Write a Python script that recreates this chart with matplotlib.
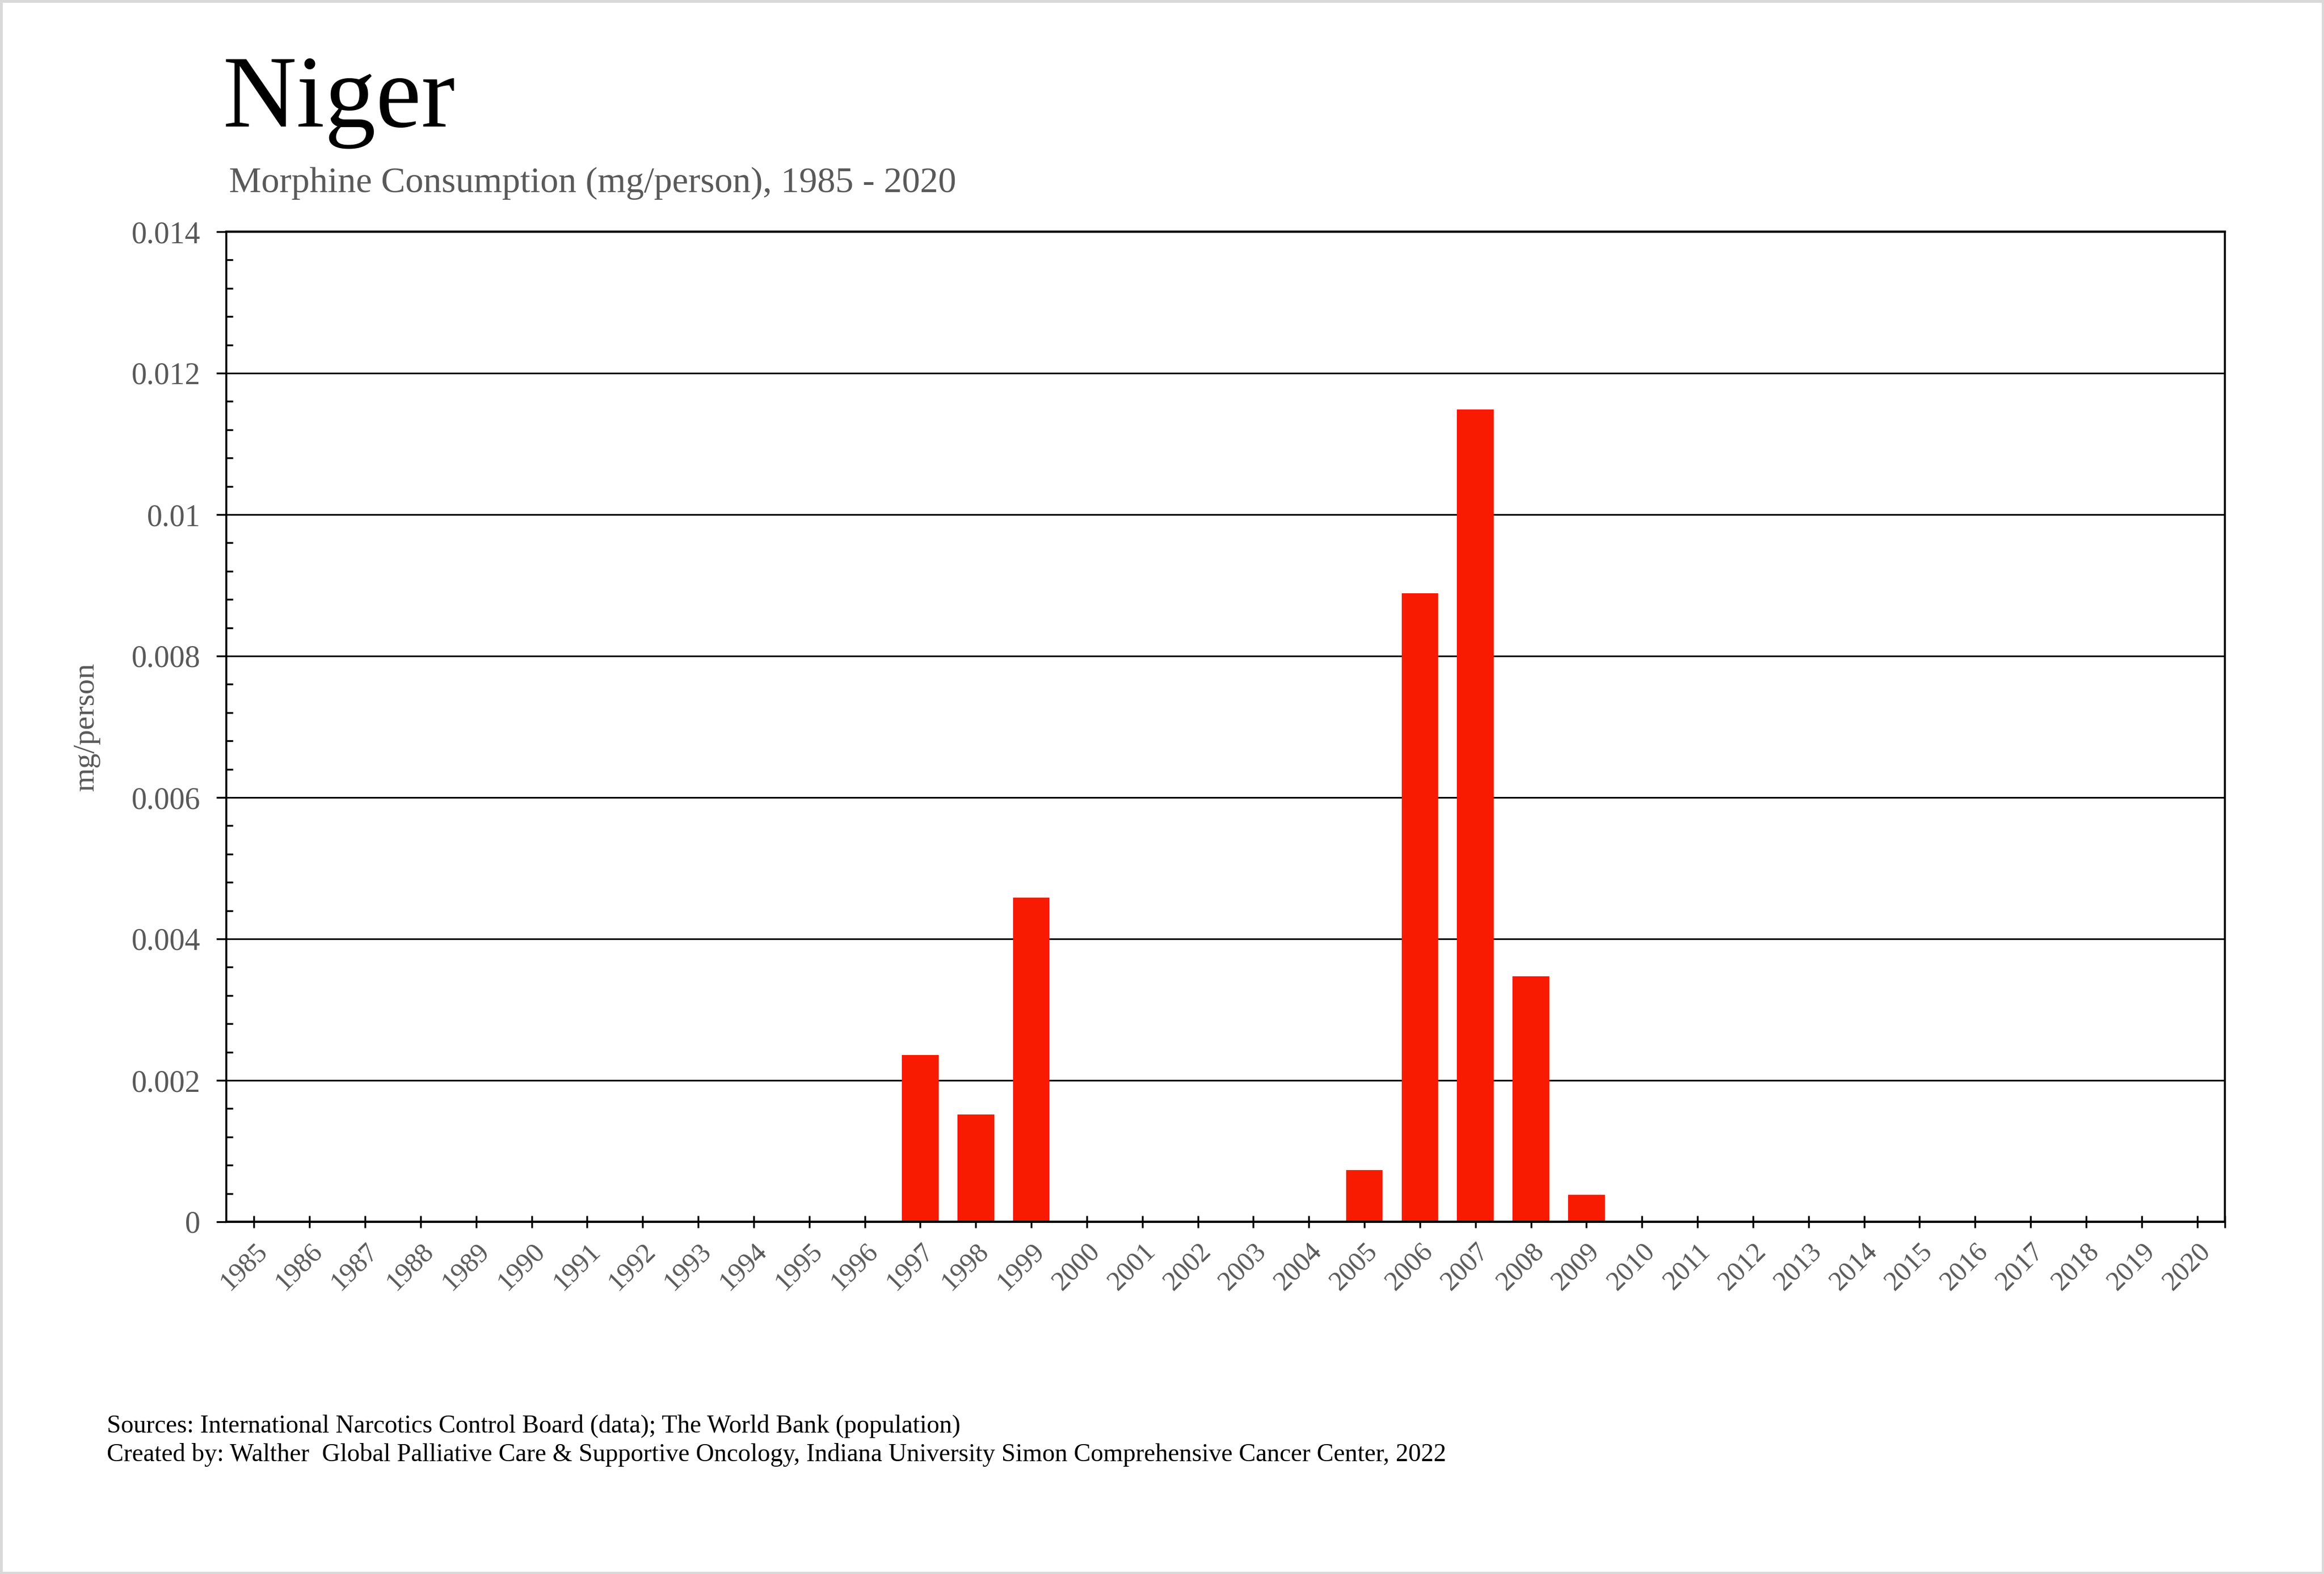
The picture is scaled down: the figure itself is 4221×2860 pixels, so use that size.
import numpy as np
import matplotlib
matplotlib.use('Agg')
import matplotlib.pyplot as plt
from matplotlib.ticker import MultipleLocator, FixedLocator
from matplotlib.patches import Rectangle

plt.rcParams['font.family'] = ['Liberation Serif', 'DejaVu Serif']

# Data
years = list(range(1985, 2021))
values = [0, 0, 0, 0, 0, 0, 0, 0, 0, 0, 0, 0,
          0.00236, 0.00152, 0.00458,
          0, 0, 0, 0, 0,
          0.00073, 0.00889, 0.01149, 0.00347, 0.00038,
          0, 0, 0, 0, 0, 0, 0, 0, 0, 0, 0]

title = 'Niger'
subtitle = 'Morphine Consumption (mg/person), 1985 - 2020'
ylabel = 'mg/person'
footer = ['Sources: International Narcotics Control Board (data); The World Bank (population)',
          'Created by: Walther  Global Palliative Care & Supportive Oncology, Indiana University Simon Comprehensive Cancer Center, 2022']

W, H, DPI = 4221, 2860, 300
fig = plt.figure(figsize=(W / DPI, H / DPI), dpi=DPI)
ax = fig.add_axes([411 / W, 1 - 2220 / H, (4041 - 411) / W, (2220 - 421) / H])

x = np.arange(len(years))
ax.bar(x, values, width=0.66, color='#f81b02', zorder=2)

ax.set_xlim(-0.5, len(years) - 0.5)
ax.set_ylim(0, 0.014)

# grid
ax.yaxis.set_major_locator(MultipleLocator(0.002))
ax.yaxis.set_minor_locator(MultipleLocator(0.0004))
ax.grid(axis='y', which='major', color='black', linewidth=0.7, zorder=1)
ax.set_axisbelow(True)

ax.set_yticks([0, 0.002, 0.004, 0.006, 0.008, 0.01, 0.012, 0.014])
ax.set_yticklabels(['0', '0.002', '0.004', '0.006', '0.008', '0.01', '0.012', '0.014'])
ax.tick_params(axis='y', which='major', direction='out', length=4.3, width=0.8,
               labelsize=13.4, labelcolor='#595959', pad=7)
ax.tick_params(axis='y', which='minor', direction='in', length=2.9, width=0.8)

ax.set_xticks(x)
ax.set_xticklabels([str(y) for y in years], rotation=45, ha='right', rotation_mode='anchor')
ax.xaxis.set_minor_locator(FixedLocator([len(years) - 0.5]))
ax.tick_params(axis='x', which='both', direction='inout', length=5.3, width=0.8,
               labelsize=12, labelcolor='#595959', pad=4.5)

for side in ['left', 'right']:
    ax.spines[side].set_linewidth(0.85)
for side in ['top', 'bottom']:
    ax.spines[side].set_linewidth(1.0)
for s in ax.spines.values():
    s.set_zorder(3)

ax.set_ylabel(ylabel, fontsize=13.3, color='#595959')
ax.yaxis.set_label_coords(-0.063, 0.5)

fig.text(405 / W, 1 - 230 / H, title, fontsize=44.6, color='black', ha='left', va='baseline')
fig.text(416 / W, 1 - 349 / H, subtitle, fontsize=15.8, color='#595959', ha='left', va='baseline')
fig.text(194 / W, 1 - 2603 / H, footer[0], fontsize=11.0, color='black', ha='left', va='baseline')
fig.text(194 / W, 1 - 2655 / H, footer[1], fontsize=11.0, color='black', ha='left', va='baseline')

# light frame around the whole picture
fig.patches.append(Rectangle((0.0005, 0.0008), 0.999, 0.9984, transform=fig.transFigure,
                             fill=False, edgecolor='#d9d9d9', linewidth=1.2))

fig.savefig('out.png', dpi=DPI)
